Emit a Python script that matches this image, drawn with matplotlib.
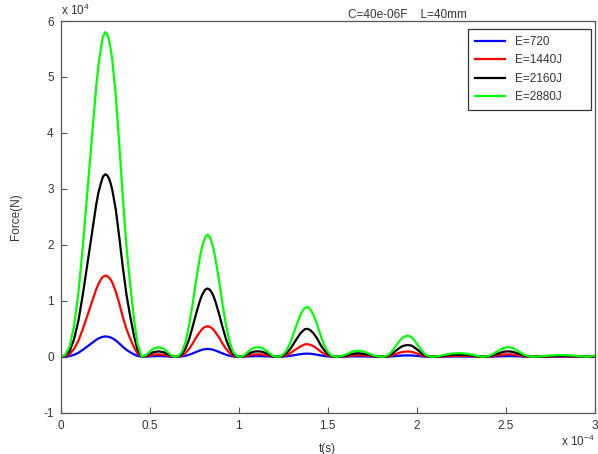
import matplotlib
matplotlib.use("Agg")
import matplotlib.pyplot as plt

plt.rcParams['font.family'] = ['Liberation Sans', 'DejaVu Sans']
plt.rcParams['mathtext.fontset'] = 'custom'
plt.rcParams['mathtext.rm'] = 'Liberation Sans'
plt.rcParams['mathtext.default'] = 'regular'
plt.rcParams['axes.unicode_minus'] = False

# time in units of 1e-4 s (one row per pulse)
t = [0, 0.025, 0.05, 0.075, 0.1, 0.125, 0.15, 0.175, 0.2, 0.2125, 0.225, 0.2375, 0.25,
     0.26, 0.27, 0.28, 0.29, 0.31, 0.33, 0.35, 0.37, 0.39, 0.41, 0.43, 0.455,
     0.48, 0.50, 0.52, 0.55, 0.58, 0.60, 0.62, 0.64,
     0.66, 0.68, 0.70, 0.72, 0.74, 0.76, 0.78, 0.79, 0.80, 0.8125, 0.825, 0.8375,
     0.85, 0.86, 0.87, 0.89, 0.91, 0.93, 0.95, 0.97, 0.99, 1.01,
     1.03, 1.05, 1.07, 1.09, 1.11, 1.13, 1.15, 1.17, 1.19, 1.21,
     1.23, 1.25, 1.27, 1.29, 1.31, 1.33, 1.35, 1.37, 1.385, 1.40, 1.42, 1.44,
     1.46, 1.48, 1.50, 1.52, 1.55,
     1.58, 1.61, 1.64, 1.67, 1.70, 1.73, 1.76, 1.80,
     1.82, 1.84, 1.86, 1.88, 1.90, 1.92, 1.947, 1.97, 1.99, 2.01, 2.03, 2.05, 2.07, 2.09,
     2.12, 2.15, 2.19, 2.235, 2.28, 2.32, 2.35, 2.37,
     2.40, 2.43, 2.46, 2.49, 2.515, 2.54, 2.57, 2.60, 2.63, 2.655,
     2.70, 2.75, 2.81, 2.87, 2.92, 2.96, 3.0]

# force in units of 1e4 N
f_2880 = [0, 0.03, 0.18, 0.55, 1.15, 2.0, 2.95, 3.9, 4.85, 5.22, 5.5, 5.72, 5.8,
          5.77, 5.68, 5.52, 5.3, 4.65, 3.75, 2.8, 1.95, 1.3, 0.72, 0.25, 0,
          0.03, 0.09, 0.145, 0.17, 0.14, 0.085, 0.025, 0,
          0.01, 0.08, 0.25, 0.54, 0.92, 1.35, 1.74, 1.905, 2.03, 2.14, 2.18, 2.14,
          2.03, 1.905, 1.74, 1.35, 0.92, 0.54, 0.25, 0.08, 0.01, 0,
          0.025, 0.08, 0.135, 0.165, 0.17, 0.16, 0.12, 0.07, 0.02, 0,
          0.005, 0.04, 0.12, 0.25, 0.43, 0.61, 0.77, 0.87, 0.89, 0.86, 0.75, 0.58,
          0.38, 0.21, 0.09, 0.02, 0,
          0.015, 0.05, 0.095, 0.11, 0.095, 0.06, 0.02, 0,
          0.005, 0.03, 0.09, 0.18, 0.27, 0.34, 0.38, 0.35, 0.28, 0.19, 0.10, 0.035, 0.005, 0,
          0.01, 0.03, 0.055, 0.065, 0.055, 0.03, 0.008, 0,
          0.01, 0.05, 0.11, 0.16, 0.17, 0.155, 0.10, 0.04, 0.006, 0,
          0.008, 0.022, 0.03, 0.022, 0.008, 0, 0.02]

f_2160 = [0, 0.017, 0.10, 0.31, 0.65, 1.125, 1.66, 2.19, 2.73, 2.94, 3.09, 3.22, 3.26,
          3.245, 3.195, 3.105, 2.98, 2.62, 2.11, 1.575, 1.10, 0.73, 0.405, 0.14, 0,
          0.017, 0.05, 0.08, 0.096, 0.079, 0.048, 0.014, 0,
          0.006, 0.045, 0.14, 0.30, 0.52, 0.76, 0.98, 1.07, 1.14, 1.20, 1.22, 1.20,
          1.14, 1.07, 0.98, 0.76, 0.52, 0.30, 0.14, 0.045, 0.006, 0,
          0.014, 0.045, 0.076, 0.093, 0.096, 0.09, 0.068, 0.039, 0.011, 0,
          0.003, 0.023, 0.068, 0.14, 0.24, 0.34, 0.43, 0.49, 0.50, 0.48, 0.42, 0.33,
          0.21, 0.12, 0.05, 0.011, 0,
          0.008, 0.028, 0.053, 0.062, 0.053, 0.034, 0.011, 0,
          0.003, 0.017, 0.05, 0.10, 0.15, 0.19, 0.21, 0.20, 0.16, 0.11, 0.056, 0.02, 0.003, 0,
          0.006, 0.017, 0.031, 0.037, 0.031, 0.017, 0.005, 0,
          0.006, 0.028, 0.062, 0.09, 0.096, 0.087, 0.056, 0.022, 0.003, 0,
          0.005, 0.012, 0.017, 0.012, 0.005, 0, 0.011]

f_1440 = [0, 0.008, 0.045, 0.14, 0.29, 0.50, 0.74, 0.975, 1.21, 1.305, 1.375, 1.43, 1.45,
          1.443, 1.42, 1.38, 1.325, 1.16, 0.94, 0.70, 0.49, 0.325, 0.18, 0.063, 0,
          0.008, 0.023, 0.036, 0.043, 0.035, 0.021, 0.006, 0,
          0.003, 0.02, 0.063, 0.135, 0.23, 0.34, 0.435, 0.476, 0.51, 0.535, 0.545, 0.535,
          0.51, 0.476, 0.435, 0.34, 0.23, 0.135, 0.063, 0.02, 0.003, 0,
          0.006, 0.02, 0.034, 0.041, 0.043, 0.04, 0.03, 0.018, 0.005, 0,
          0.001, 0.01, 0.03, 0.063, 0.11, 0.15, 0.19, 0.22, 0.225, 0.215, 0.19, 0.145,
          0.095, 0.053, 0.023, 0.005, 0,
          0.004, 0.013, 0.024, 0.028, 0.024, 0.015, 0.005, 0,
          0.001, 0.008, 0.023, 0.045, 0.068, 0.085, 0.095, 0.088, 0.07, 0.048, 0.025, 0.009, 0.001, 0,
          0.003, 0.008, 0.014, 0.016, 0.014, 0.008, 0.002, 0,
          0.003, 0.013, 0.028, 0.04, 0.043, 0.039, 0.025, 0.01, 0.002, 0,
          0.002, 0.006, 0.008, 0.006, 0.002, 0, 0.005]

f_720 = [0, 0.002, 0.011, 0.034, 0.072, 0.125, 0.184, 0.244, 0.303, 0.326, 0.344, 0.357, 0.362,
         0.36, 0.355, 0.345, 0.331, 0.29, 0.234, 0.175, 0.122, 0.081, 0.045, 0.016, 0,
         0.002, 0.006, 0.009, 0.011, 0.009, 0.005, 0.002, 0,
         0.001, 0.005, 0.016, 0.034, 0.058, 0.085, 0.11, 0.12, 0.13, 0.136, 0.14, 0.136,
         0.13, 0.12, 0.11, 0.085, 0.058, 0.034, 0.016, 0.005, 0.001, 0,
         0.002, 0.005, 0.008, 0.01, 0.011, 0.01, 0.008, 0.004, 0.001, 0,
         0, 0.003, 0.008, 0.016, 0.027, 0.038, 0.048, 0.054, 0.056, 0.054, 0.047, 0.036,
         0.024, 0.013, 0.006, 0.001, 0,
         0.001, 0.003, 0.006, 0.007, 0.006, 0.004, 0.001, 0,
         0, 0.002, 0.006, 0.011, 0.017, 0.021, 0.024, 0.022, 0.018, 0.012, 0.006, 0.002, 0, 0,
         0.001, 0.002, 0.003, 0.004, 0.003, 0.002, 0.001, 0,
         0.001, 0.003, 0.007, 0.01, 0.011, 0.01, 0.006, 0.003, 0, 0,
         0, 0.001, 0.002, 0.001, 0, 0, 0.001]

labels = ['E=720', 'E=1440J', 'E=2160J', 'E=2880J']
colors = ['#0000ff', '#ff0000', '#000000', '#00ff00']
xticks = [0, 0.5, 1, 1.5, 2, 2.5, 3]
xticklabels = ['0', '0.5', '1', '1.5', '2', '2.5', '3']
yticks = [-1, 0, 1, 2, 3, 4, 5, 6]

fig = plt.figure(figsize=(5.98, 4.54), dpi=100)
ax = fig.add_axes([0.1015, 0.091, 0.893, 0.8627])

for y, c, lab in zip([f_720, f_1440, f_2160, f_2880], colors, labels):
    ax.plot(t, y, color=c, lw=1.6, label=lab)

ax.set_xlim(0, 3)
ax.set_ylim(-1, 6)
ax.set_xticks(xticks)
ax.set_xticklabels(xticklabels)
ax.set_yticks(yticks)

edge = '#555555'
for s in ax.spines.values():
    s.set_color(edge)
    s.set_linewidth(0.9)
ax.tick_params(direction='in', length=4, width=0.8, color=edge,
               labelsize=8.5, labelcolor='#333333', pad=5)

ax.set_xlabel('t(s)', fontsize=8.5, color='#333333')
ax.set_ylabel('Force(N)', fontsize=8.5, color='#333333')
ax.xaxis.set_label_coords(0.5, -0.077)
ax.yaxis.set_label_coords(-0.072, 0.5)

fig.text(61 / 598, 1 - 10 / 454, 'x 10$^{4}$', fontsize=8.5, color='#333333',
         va='center', ha='left')
fig.text(561 / 598, 1 - 441 / 454, 'x 10$^{-4}$', fontsize=8.5, color='#333333',
         va='center', ha='left')
fig.text(348 / 598, 1 - 15 / 454, 'C=40e-06F    L=40mm', fontsize=8.5,
         color='#333333', va='center', ha='left')

leg = ax.legend(loc='upper left', bbox_to_anchor=(0.762, 0.5, 0.2305, 0.48),
                mode='expand', borderaxespad=0, fontsize=8.5, handlelength=2.6,
                handletextpad=0.8, labelspacing=0.55, borderpad=0.6,
                fancybox=False, framealpha=1)
leg.get_frame().set_edgecolor('#333333')
leg.get_frame().set_linewidth(0.9)
for txt in leg.get_texts():
    txt.set_color('#333333')

fig.savefig('out.png', dpi=100)
